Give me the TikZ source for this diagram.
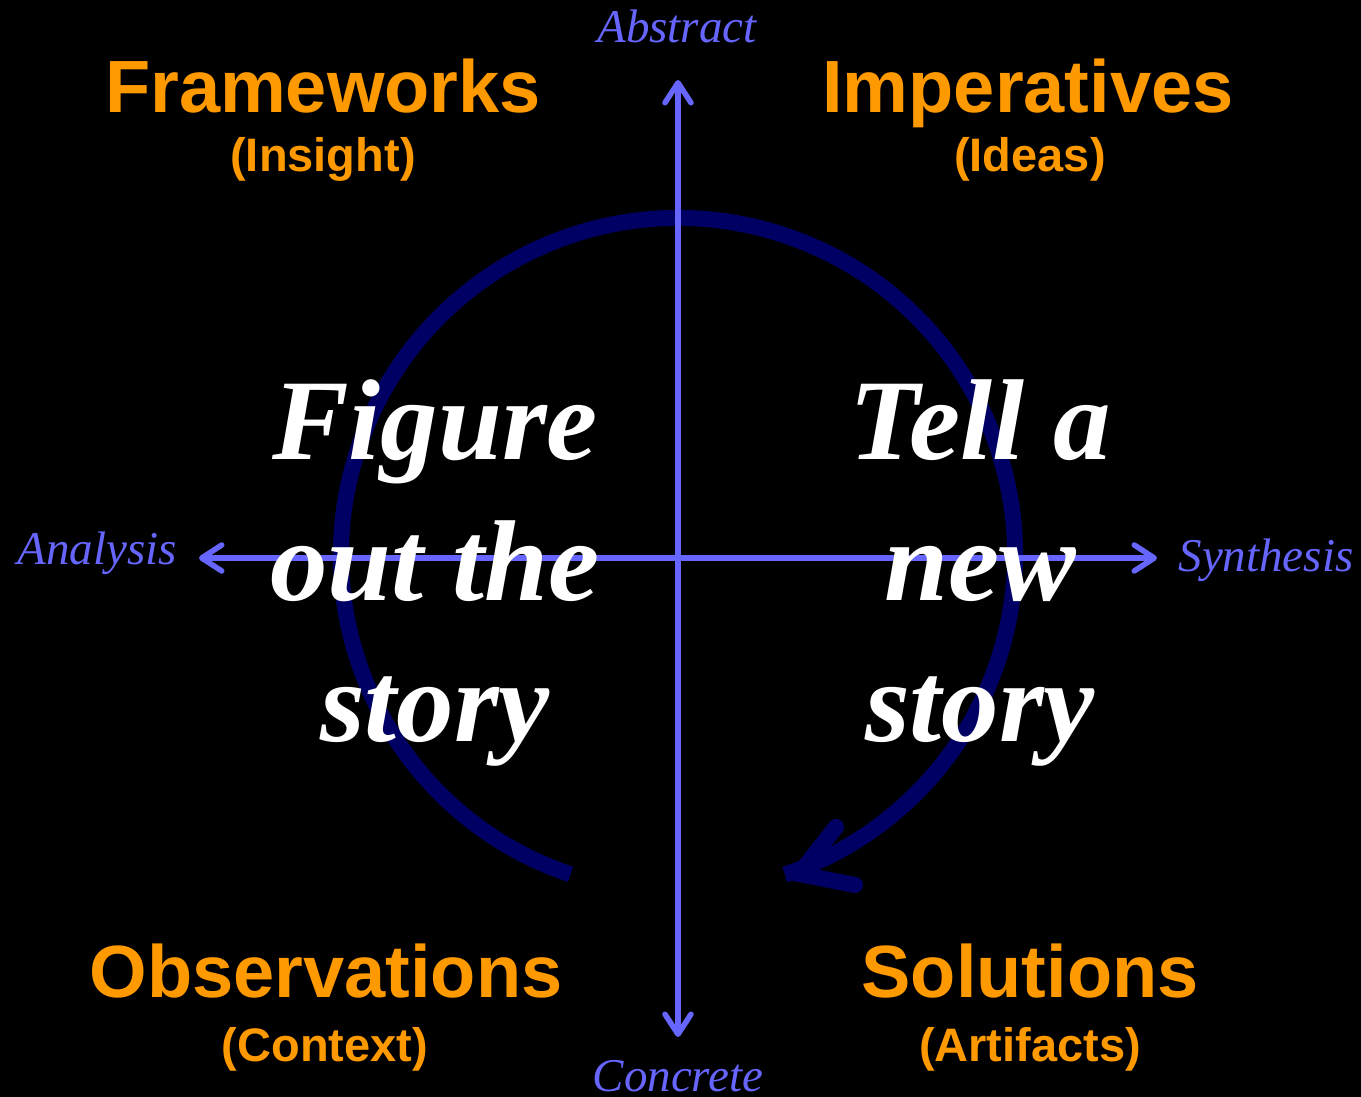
\documentclass[tikz,border=0pt]{standalone}
\usepackage{fontspec}
\setmainfont{Liberation Serif}
\newfontfamily\arialfont{Liberation Sans}
\usetikzlibrary{arrows.meta,calc}
\definecolor{axisblue}{RGB}{102,102,255}
\definecolor{labelorange}{RGB}{255,153,0}
\definecolor{navyring}{RGB}{0,0,100}
\tikzset{
  axisline/.style={draw=axisblue, line width=5.5pt,
    {Straight Barb[length=20pt,width=26pt,round]}-{Straight Barb[length=20pt,width=26pt,round]}},
  ringline/.style={draw=navyring, line width=16pt},
  quadtitle/.style={text=labelorange, anchor=base, inner sep=0pt, font=\arialfont\bfseries\fontsize{74}{80}\selectfont},
  quadsub/.style={text=labelorange, anchor=base, inner sep=0pt, font=\arialfont\bfseries\fontsize{47}{52}\selectfont},
  axislabel/.style={text=axisblue, anchor=base, inner sep=0pt, font=\itshape\fontsize{47}{52}\selectfont},
  storytext/.style={text=white, anchor=base, inner sep=0pt, align=center, font=\bfseries\itshape\fontsize{115}{141}\selectfont}
}
\begin{document}
\begin{tikzpicture}[x=1pt,y=1pt]
  \fill[black] (0,0) rectangle (1361,1097);
  \useasboundingbox (0,0) rectangle (1361,1097);

  % circular arrow
  \coordinate (ringstart) at ($(678,542)+(251.4:337)$);
  \draw[ringline] (ringstart) arc[start angle=251.4, end angle=-71.5, radius=337pt];
  \coordinate (headtip) at (799,223);
  \coordinate (headbarbA) at (836,270);
  \coordinate (headbarbB) at (855,212);
  \draw[ringline, line cap=round, line join=miter] (headbarbA) -- (headtip) -- (headbarbB);

  % axes
  \coordinate (top) at (678,1017);
  \coordinate (bottom) at (678,60);
  \coordinate (left) at (199,539);
  \coordinate (right) at (1157,539);
  \draw[axisline] (bottom) -- (top);
  \draw[axisline] (left) -- (right);

  % axis labels
  \node[axislabel] (abstract) at (677,1054) {Abstract};
  \node[axislabel] (concrete) at (678,5) {Concrete};
  \node[axislabel] (analysis) at (97,532) {Analysis};
  \node[axislabel] (synthesis) at (1266,525) {Synthesis};

  % quadrant titles
  \node[quadtitle] (frameworks) at (323,984) {Frameworks};
  \node[quadsub] (insight) at (323,925) {(Insight)};
  \node[quadtitle] (imperatives) at (1028,984) {Imperatives};
  \node[quadsub] (ideas) at (1030,925) {(Ideas)};
  \node[quadtitle] (observations) at (326,99) {Observations};
  \node[quadsub] (context) at (325,35) {(Context)};
  \node[quadtitle] (solutions) at (1030,99) {Solutions};
  \node[quadsub] (artifacts) at (1030,35) {(Artifacts)};

  % story texts (base anchor = baseline of last line)
  \node[storytext] (figure) at (435,355) {Figure\\out the\\story};
  \node[storytext] (tell) at (980,355) {Tell a\\new\\story};
\end{tikzpicture}
\end{document}
